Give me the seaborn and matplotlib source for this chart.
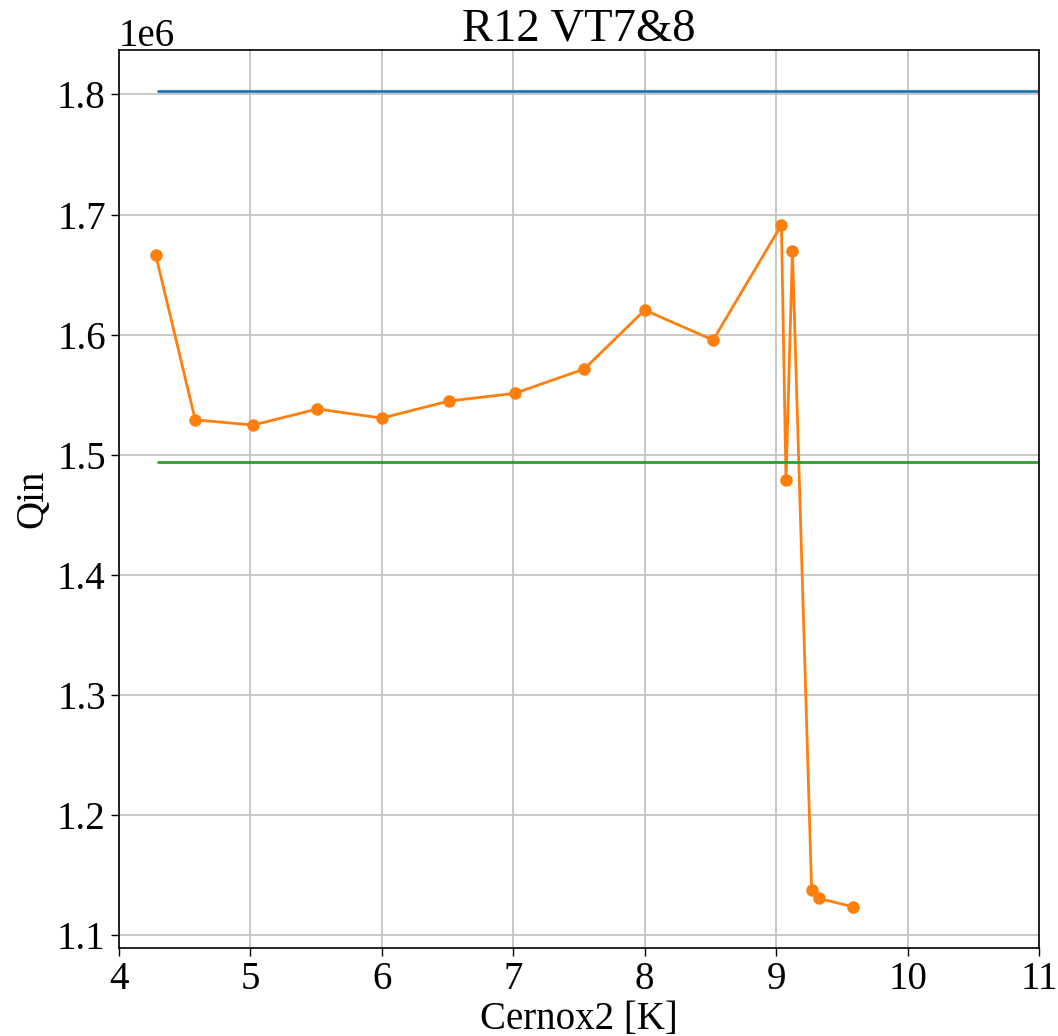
import matplotlib
matplotlib.use("Agg")
import matplotlib.pyplot as plt
import seaborn as sns

cernox2 = [4.28, 4.58, 5.02, 5.51, 6.00, 6.51, 7.01, 7.54, 8.00, 8.52,
           9.04, 9.075, 9.124, 9.27, 9.327, 9.588]
qin = [1.666e6, 1.529e6, 1.5246e6, 1.538e6, 1.5304e6, 1.5446e6, 1.551e6,
       1.5713e6, 1.6204e6, 1.5954e6, 1.6913e6, 1.4788e6, 1.6696e6,
       1.1371e6, 1.1302e6, 1.1232e6]
ref_x = [4.30, 11.5]
upper_level = [1.8029e6, 1.8029e6]
lower_level = [1.4937e6, 1.4937e6]

sns.set_style("white")
plt.rcParams['font.family'] = ['Liberation Serif', 'DejaVu Serif']
plt.rcParams['font.size'] = 28
plt.rcParams['text.color'] = 'black'
plt.rcParams['axes.labelcolor'] = 'black'
plt.rcParams['xtick.color'] = 'black'
plt.rcParams['ytick.color'] = 'black'

fig = plt.figure(figsize=(10.58, 10.36), dpi=100)
ax = fig.add_axes([119/1058, 1 - 947.7/1036, (1039 - 119)/1058, (947.7 - 50.3)/1036])

sns.lineplot(x=ref_x, y=upper_level, ax=ax, color="C0", linewidth=2)
sns.lineplot(x=cernox2, y=qin, ax=ax, color="C1", linewidth=2, marker="o",
             markersize=9, markeredgewidth=0, sort=False, estimator=None)
sns.lineplot(x=ref_x, y=lower_level, ax=ax, color="C2", linewidth=2)

ax.set_xlim(4, 11)
ax.set_ylim(1.0892e6, 1.8368e6)
ax.grid(True, color="#c4c4c4", linewidth=1.3)
for s in ax.spines.values():
    s.set_color("black")
    s.set_linewidth(1.2)
ax.tick_params(axis="both", which="both", direction="out", length=6, width=1,
               color="black", labelcolor="black", labelsize=28, bottom=True, left=True)
ax.yaxis.get_offset_text().set_fontsize(28)
ax.yaxis.get_offset_text().set_color("black")
ax.set_title("R12 VT7&8", fontsize=33.6, color="black")
ax.set_xlabel("Cernox2 [K]", fontsize=28, labelpad=2)
ax.set_ylabel("Qin", fontsize=28)

fig.savefig("out.png", dpi=100)
